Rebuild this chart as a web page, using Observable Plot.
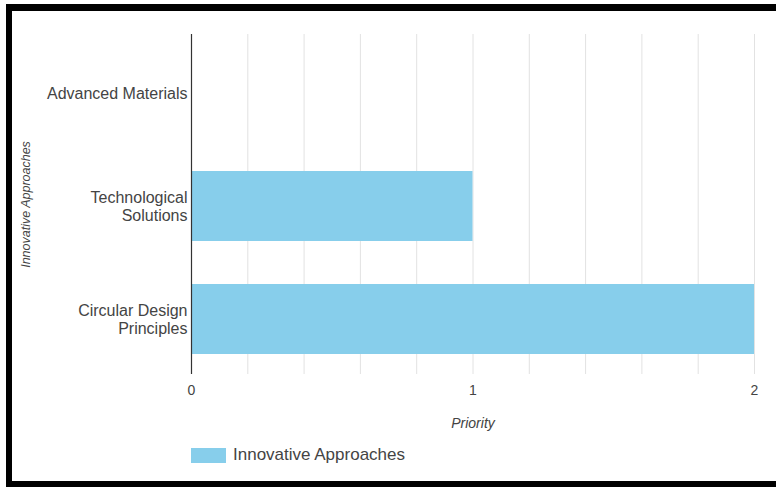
<!DOCTYPE html>
<html>
<head>
<meta charset="utf-8">
<script src="https://cdn.jsdelivr.net/npm/d3@7"></script>
<script src="https://cdn.jsdelivr.net/npm/@observablehq/plot@0.6"></script>
<style>
  html, body { margin: 0; padding: 0; background: #fff; }
  body { width: 776px; height: 487px; position: relative; overflow: hidden; font-family: "Liberation Sans", Arial, sans-serif; }
  #chart { position: absolute; left: 0; top: 0; }
  #frame { position: absolute; left: 6px; top: 4px; width: 770px; height: 483px; box-sizing: border-box;
           border-top: 7px solid #000; border-left: 6px solid #000; border-bottom: 6px solid #000; pointer-events: none; }
  #legend { position: absolute; left: 191px; top: 445px; display: flex; align-items: center; font-size: 17px; color: #444; }
  #legend .sw { width: 35px; height: 15px; margin-right: 7px; }
  g[aria-label="x-axis label"] text, g[aria-label="y-axis label"] text { font-style: italic; }
</style>
</head>
<body>
<div id="chart"></div>
<div id="frame"></div>
<div id="legend"></div>
<script>
const categories = ["Advanced Materials", "Technological Solutions", "Circular Design Principles"];
const tickLabels = ["Advanced Materials", "Technological\nSolutions", "Circular Design\nPrinciples"];
const values = [0, 1, 2];
const seriesName = "Innovative Approaches";
const xTicks = [0, 1, 2];
const gridTicks = [0, 0.2, 0.4, 0.6, 0.8, 1, 1.2, 1.4, 1.6, 1.8, 2];
const barColor = "#87CEEB";

const data = categories.map((c, i) => ({category: c, value: values[i]}));
const labelMap = new Map(categories.map((c, i) => [c, tickLabels[i]]));

const chart = Plot.plot({
  width: 776,
  height: 440,
  marginLeft: 191,
  marginRight: 22,
  marginTop: 34,
  marginBottom: 66,
  style: {fontFamily: "'Liberation Sans', Arial, sans-serif", background: "transparent"},
  x: {domain: [0, 2]},
  y: {domain: categories, range: [36, 377], paddingInner: 0.38, paddingOuter: 0.19},
  marks: [
    Plot.gridX(gridTicks, {stroke: "#e2e2e2", strokeOpacity: 1}),
    Plot.barX(data, {x: "value", y: "category", fill: barColor}),
    Plot.ruleX([0], {stroke: "#333", strokeWidth: 1.2}),
    Plot.axisX(xTicks, {tickSize: 0, tickPadding: 11, fontSize: 14, color: "#444", tickFormat: d => String(d),
      label: "Priority", labelAnchor: "center", labelArrow: "none", labelOffset: 53}),
    Plot.axisY({tickSize: 0, tickPadding: 4, fontSize: 16, lineHeight: 1.1, color: "#444", tickFormat: d => labelMap.get(d),
      label: seriesName, labelAnchor: "center", labelArrow: "none", labelOffset: 170})
  ]
});
document.getElementById("chart").appendChild(chart);

chart.querySelectorAll('g[aria-label="x-axis label"] text').forEach(t => {
  t.setAttribute("font-size", "14"); t.style.fontSize = "14px"; t.setAttribute("fill", "#444");
});
chart.querySelectorAll('g[aria-label="y-axis label"] text').forEach(t => {
  t.setAttribute("font-size", "12.5"); t.style.fontSize = "12.5px"; t.setAttribute("fill", "#444");
});

const legend = document.getElementById("legend");
const sw = document.createElement("div");
sw.className = "sw";
sw.style.background = barColor;
legend.appendChild(sw);
const lt = document.createElement("span");
lt.textContent = seriesName;
legend.appendChild(lt);
</script>
</body>
</html>
